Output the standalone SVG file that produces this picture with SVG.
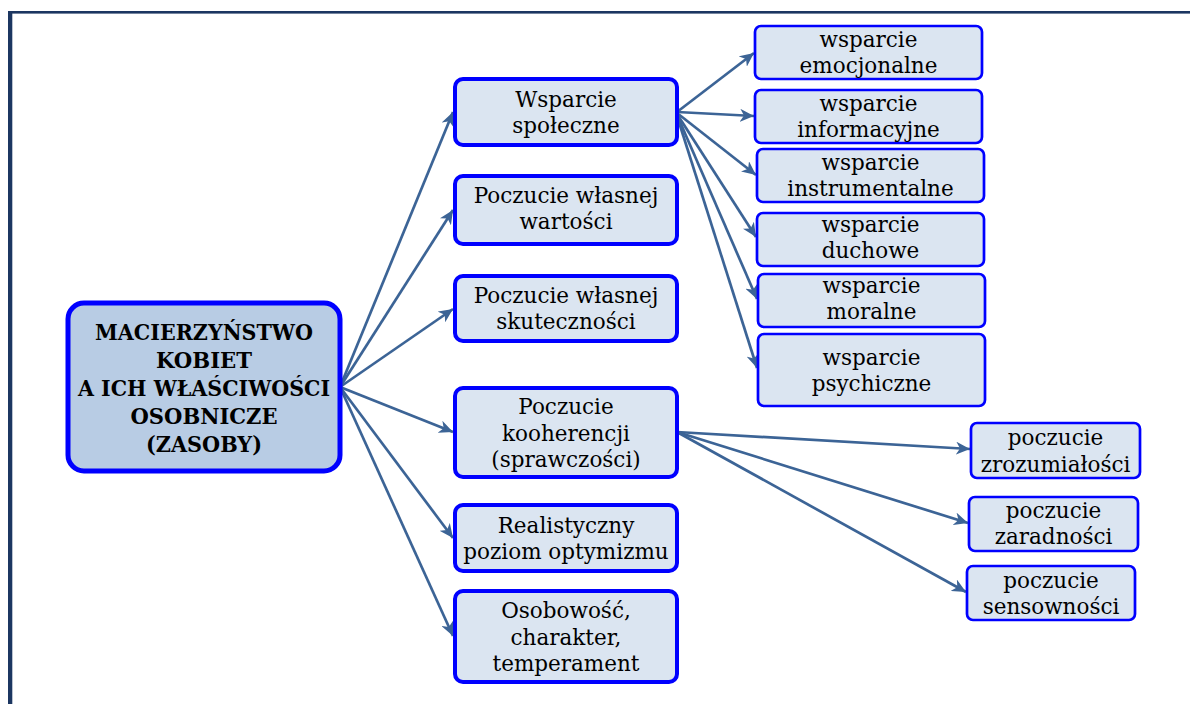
<svg xmlns="http://www.w3.org/2000/svg" width="1190" height="704" viewBox="0 0 1190 704">
  <defs>
    <marker id="arrow" markerUnits="userSpaceOnUse" markerWidth="14" markerHeight="13" refX="14" refY="6.5" orient="auto">
      <path d="M0,0 L14,6.5 L0,13 L4,6.5 Z" fill="#3c6496"/>
    </marker>
    <style>
      .root rect { fill: #b8cce4; stroke: #0000ff; stroke-width: 5; }
      .l1 rect { fill: #dbe5f1; stroke: #0000ff; stroke-width: 4; }
      .l2 rect { fill: #dbe5f1; stroke: #0000ff; stroke-width: 2.7; }
      text { font-family: "DejaVu Serif", "Liberation Serif", serif; font-size: 21.5px; fill: #000; text-anchor: middle; }
      .root text { font-weight: bold; font-size: 23px; }
      #connectors line { stroke: #3c6496; stroke-width: 2.7; marker-end: url(#arrow); }
    </style>
  </defs>

  <rect width="1190" height="704" fill="#ffffff"/>
  <!-- frame -->
  <rect x="8" y="11" width="1182" height="2.6" fill="#1c3661"/>
  <rect x="8" y="11" width="4.3" height="693" fill="#1c3661"/>

  <g id="connectors">
    <line x1="340" y1="387" x2="453" y2="112"/>
    <line x1="340" y1="387" x2="453" y2="210"/>
    <line x1="340" y1="387" x2="453" y2="309"/>
    <line x1="340" y1="387" x2="453" y2="432"/>
    <line x1="340" y1="387" x2="453" y2="538"/>
    <line x1="340" y1="387" x2="453" y2="636"/>

    <line x1="677" y1="112" x2="754" y2="53"/>
    <line x1="677" y1="112" x2="754" y2="116"/>
    <line x1="677" y1="113" x2="756" y2="175"/>
    <line x1="677" y1="114" x2="756" y2="237"/>
    <line x1="677" y1="115" x2="757" y2="299"/>
    <line x1="677" y1="116" x2="757" y2="368"/>

    <line x1="677" y1="432" x2="970" y2="449"/>
    <line x1="677" y1="432" x2="968" y2="523"/>
    <line x1="677" y1="432" x2="966" y2="592"/>
  </g>

  <g id="root" class="root">
    <rect x="68" y="303" width="272" height="168" rx="16"/>
    <text x="204" y="340" textLength="218" lengthAdjust="spacingAndGlyphs">MACIERZYŃSTWO</text>
    <text x="204" y="368" textLength="96" lengthAdjust="spacingAndGlyphs">KOBIET</text>
    <text x="204" y="396" textLength="252" lengthAdjust="spacingAndGlyphs">A ICH WŁAŚCIWOŚCI</text>
    <text x="204" y="423.5" textLength="147" lengthAdjust="spacingAndGlyphs">OSOBNICZE</text>
    <text x="204" y="451.5" textLength="116" lengthAdjust="spacingAndGlyphs">(ZASOBY)</text>
  </g>

  <g id="wsparcie-spoleczne" class="l1">
    <rect x="455" y="79" width="222" height="66" rx="8"/>
    <text x="566" y="106.5">Wsparcie</text>
    <text x="566" y="133">społeczne</text>
  </g>
  <g id="wlasna-wartosc" class="l1">
    <rect x="455" y="176" width="222" height="68" rx="8"/>
    <text x="566" y="203">Poczucie własnej</text>
    <text x="566" y="229">wartości</text>
  </g>
  <g id="wlasna-skutecznosc" class="l1">
    <rect x="455" y="276" width="222" height="65" rx="8"/>
    <text x="566" y="303">Poczucie własnej</text>
    <text x="566" y="329">skuteczności</text>
  </g>
  <g id="kooherencja" class="l1">
    <rect x="455" y="388" width="222" height="89" rx="8"/>
    <text x="566" y="414">Poczucie</text>
    <text x="566" y="441">kooherencji</text>
    <text x="566" y="467">(sprawczości)</text>
  </g>
  <g id="optymizm" class="l1">
    <rect x="455" y="505" width="222" height="66" rx="8"/>
    <text x="566" y="533">Realistyczny</text>
    <text x="566" y="559">poziom optymizmu</text>
  </g>
  <g id="osobowosc" class="l1">
    <rect x="455" y="591" width="222" height="91" rx="8"/>
    <text x="566" y="618">Osobowość,</text>
    <text x="566" y="645">charakter,</text>
    <text x="566" y="671">temperament</text>
  </g>

  <g id="wsparcie-emocjonalne" class="l2">
    <rect x="755" y="26" width="227" height="53" rx="6"/>
    <text x="868.5" y="46.5">wsparcie</text>
    <text x="868.5" y="72.5">emocjonalne</text>
  </g>
  <g id="wsparcie-informacyjne" class="l2">
    <rect x="755" y="90" width="227" height="53" rx="6"/>
    <text x="868.5" y="110.5">wsparcie</text>
    <text x="868.5" y="137">informacyjne</text>
  </g>
  <g id="wsparcie-instrumentalne" class="l2">
    <rect x="757" y="149" width="227" height="53" rx="6"/>
    <text x="870.5" y="170">wsparcie</text>
    <text x="870.5" y="196">instrumentalne</text>
  </g>
  <g id="wsparcie-duchowe" class="l2">
    <rect x="757" y="213" width="227" height="53" rx="6"/>
    <text x="870.5" y="231.5">wsparcie</text>
    <text x="870.5" y="258">duchowe</text>
  </g>
  <g id="wsparcie-moralne" class="l2">
    <rect x="758" y="274" width="227" height="53" rx="6"/>
    <text x="871.5" y="292.5">wsparcie</text>
    <text x="871.5" y="319">moralne</text>
  </g>
  <g id="wsparcie-psychiczne" class="l2">
    <rect x="758" y="334" width="227" height="72" rx="6"/>
    <text x="871.5" y="365">wsparcie</text>
    <text x="871.5" y="391">psychiczne</text>
  </g>

  <g id="zrozumialosc" class="l2">
    <rect x="971" y="423" width="169" height="55" rx="6"/>
    <text x="1055.5" y="445">poczucie</text>
    <text x="1055.5" y="471.5">zrozumiałości</text>
  </g>
  <g id="zaradnosc" class="l2">
    <rect x="969" y="497" width="169" height="54" rx="6"/>
    <text x="1053.5" y="518">poczucie</text>
    <text x="1053.5" y="544">zaradności</text>
  </g>
  <g id="sensownosc" class="l2">
    <rect x="967" y="566" width="168" height="54" rx="6"/>
    <text x="1051" y="588">poczucie</text>
    <text x="1051" y="613.5">sensowności</text>
  </g>
</svg>
